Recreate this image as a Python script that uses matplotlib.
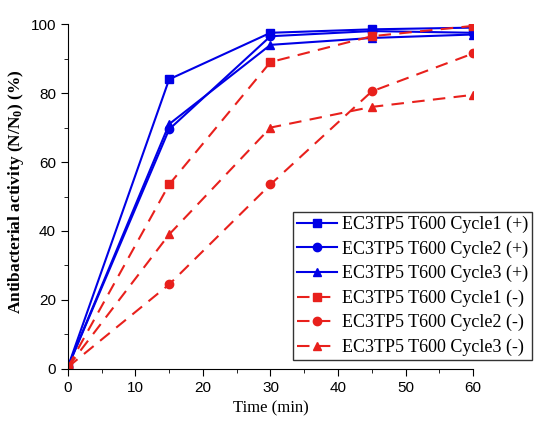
import matplotlib
matplotlib.use("Agg")
import matplotlib.pyplot as plt
from matplotlib.ticker import MultipleLocator

time = [0, 15, 30, 45, 60]
c1_pos = [0.5, 84, 97.5, 98.5, 99]
c2_pos = [0.5, 69.5, 96.5, 98, 97.5]
c3_pos = [0.5, 71, 94, 96, 97]
c1_neg = [0.5, 53.5, 89, 96.5, 99.5]
c2_neg = [0.5, 24.5, 53.5, 80.5, 91.5]
c3_neg = [0.5, 39, 70, 76, 79.5]
labels = ["EC3TP5 T600 Cycle1 (+)", "EC3TP5 T600 Cycle2 (+)", "EC3TP5 T600 Cycle3 (+)",
          "EC3TP5 T600 Cycle1 (-)", "EC3TP5 T600 Cycle2 (-)", "EC3TP5 T600 Cycle3 (-)"]

plt.rcParams["mathtext.fontset"] = "custom"
plt.rcParams["mathtext.rm"] = "Liberation Serif"
plt.rcParams["mathtext.bf"] = "Liberation Serif:bold"
plt.rcParams["mathtext.it"] = "Liberation Serif:italic"

fig = plt.figure(figsize=(5.34, 4.24), dpi=100)
ax = fig.add_axes([0.127, 0.130, 0.759, 0.813])

blue = "#0000E6"
red = "#E8201C"
series = [(c1_pos, blue, "-", "s"), (c2_pos, blue, "-", "o"), (c3_pos, blue, "-", "^"),
          (c1_neg, red, "--", "s"), (c2_neg, red, "--", "o"), (c3_neg, red, "--", "^")]
for (vals, col, ls, mk), lab in zip(series, labels):
    kw = {"dashes": (6, 4)} if ls == "--" else {}
    ax.plot(time, vals, color=col, linestyle=ls, marker=mk, markersize=6,
            linewidth=1.5, label=lab, **kw)

ax.set_xlim(0, 60)
ax.set_ylim(0, 100)
ax.xaxis.set_major_locator(MultipleLocator(10))
ax.xaxis.set_minor_locator(MultipleLocator(5))
ax.yaxis.set_major_locator(MultipleLocator(20))
ax.yaxis.set_minor_locator(MultipleLocator(10))
for s in ["top", "right"]:
    ax.spines[s].set_visible(False)
ax.tick_params(which="both", direction="out", labelsize=11)
ax.tick_params(which="major", length=5)
ax.tick_params(which="minor", length=3)
for t in ax.get_xticklabels() + ax.get_yticklabels():
    t.set_fontfamily("Liberation Sans")

ax.set_xlabel("Time (min)", fontfamily="Liberation Serif", fontsize=12)
ax.set_ylabel("Antibacterial activity (N/N$_\\mathbf{0}$) (%)", fontfamily="Liberation Serif",
              fontsize=12.5, fontweight="bold")
ax.yaxis.set_label_coords(-0.104, 0.515)

leg = ax.legend(loc="lower left", bbox_to_anchor=(0.556, 0.027),
                prop={"family": "Liberation Serif", "size": 13},
                frameon=True, fancybox=False, edgecolor="black", handlelength=2.2,
                borderaxespad=0, labelspacing=0.4, handletextpad=0.3, borderpad=0.2)
leg.get_frame().set_linewidth(1.0)

fig.savefig("out.png", dpi=100)
